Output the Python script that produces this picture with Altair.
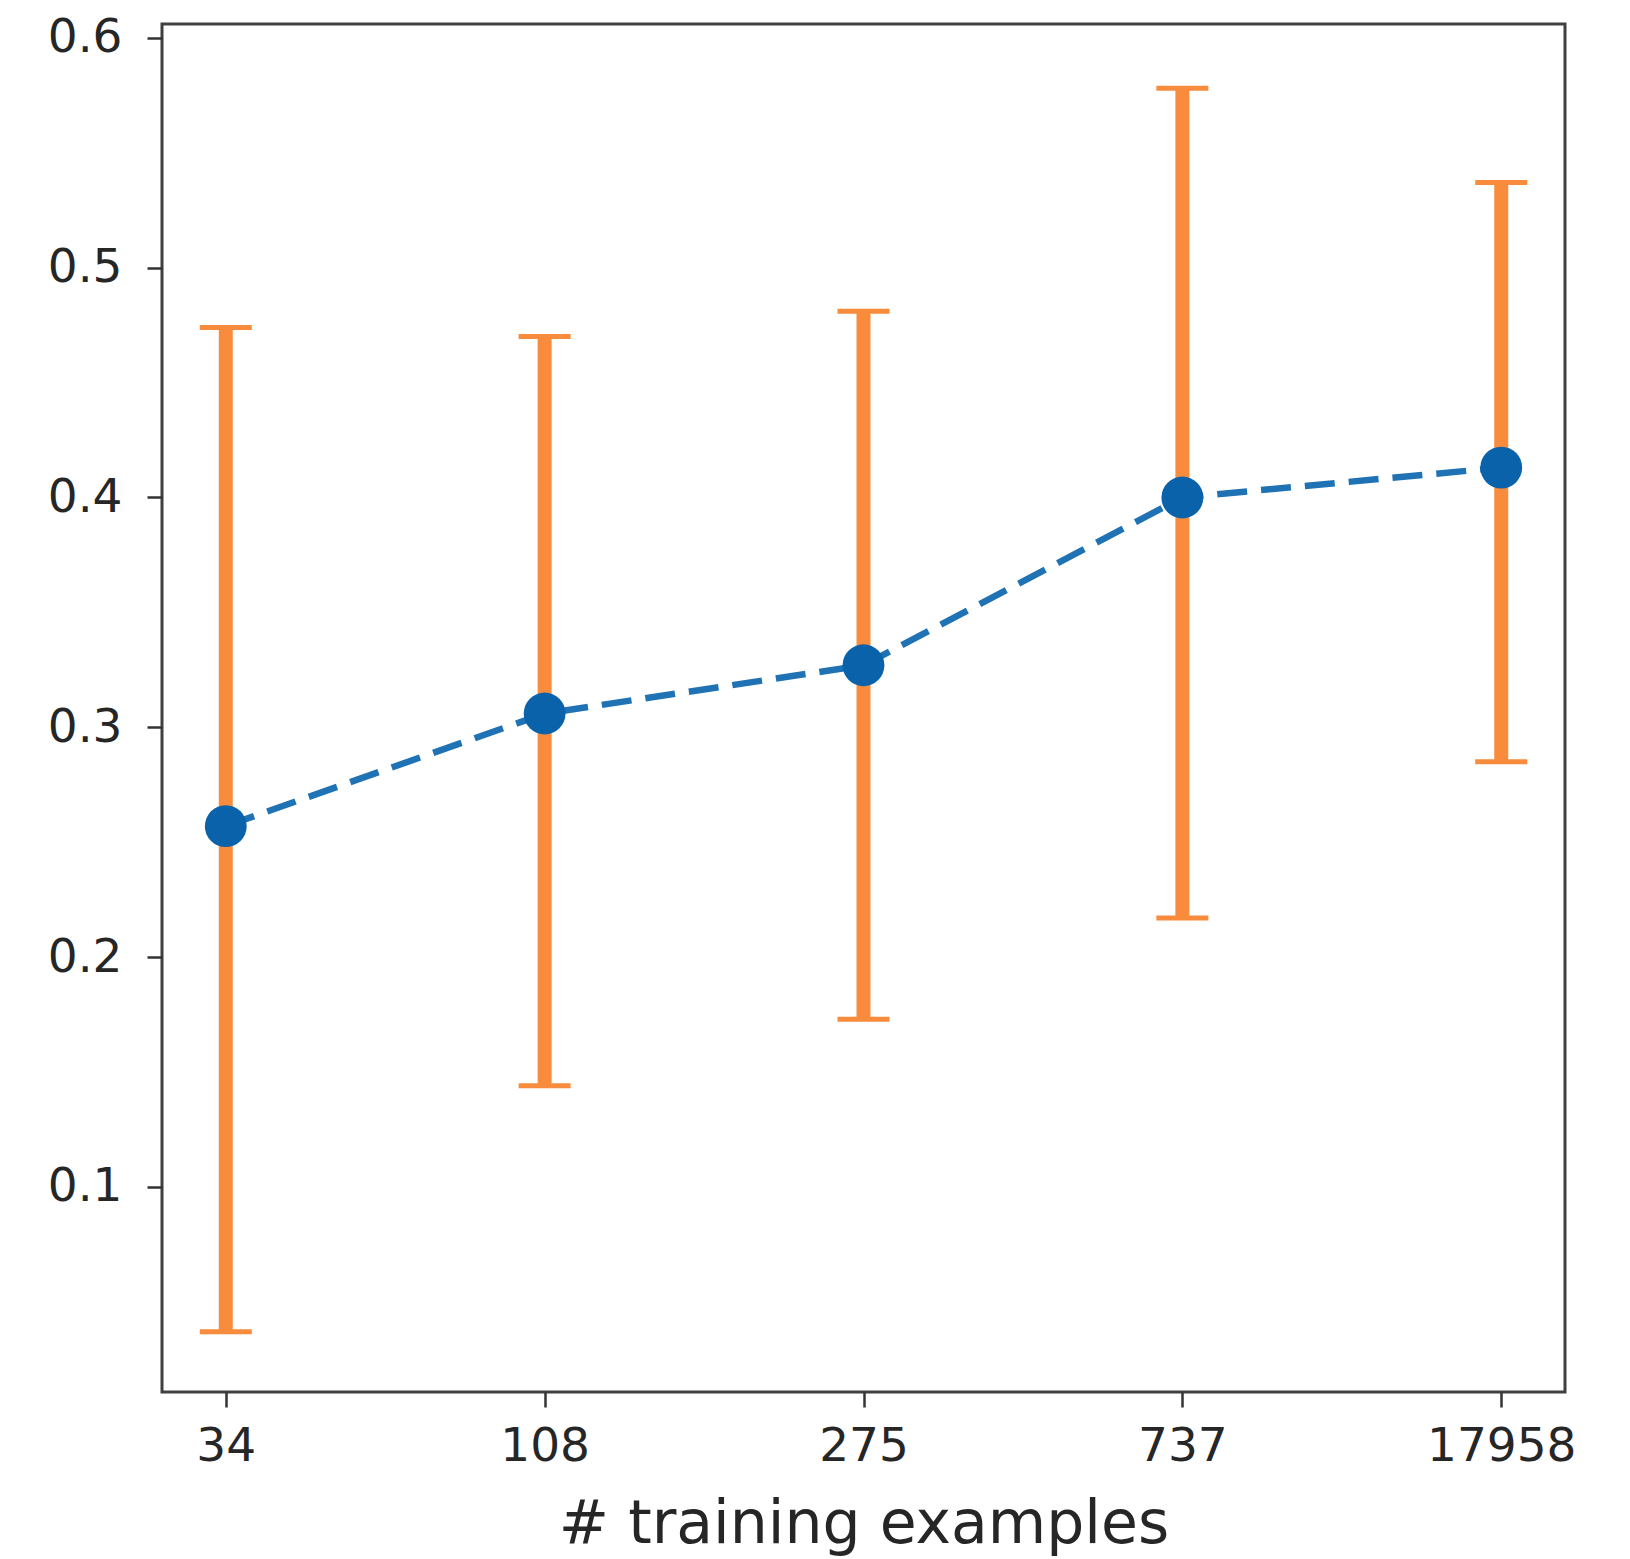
import altair as alt
import pandas as pd

# Data
labels = ["34", "108", "275", "737", "17958"]
means = [0.257, 0.306, 0.327, 0.400, 0.413]
lower = [0.037, 0.144, 0.173, 0.217, 0.285]
upper = [0.474, 0.470, 0.481, 0.578, 0.537]

df = pd.DataFrame({"n": labels, "mean": means, "lo": lower, "hi": upper})

FONT = "DejaVu Sans"
ORANGE = "#f98c3c"
BLUE_PT = "#0a62aa"
BLUE_LN = "#1f72b3"

x_enc = alt.X(
    "n:N",
    sort=labels,
    scale=alt.Scale(type="point", padding=0.2),
    axis=alt.Axis(
        title="# training examples",
        labelAngle=0,
        labelFont=FONT,
        labelFontSize=47,
        labelColor="#262626",
        labelPadding=16,
        tickSize=15,
        tickWidth=2.5,
        tickColor="#333333",
        domain=False,
        grid=False,
        titleFont=FONT,
        titleFontSize=60,
        titleFontWeight="normal",
        titleColor="#262626",
        titleBaseline="alphabetic",
        titleY=150,
    ),
)

y_scale = alt.Scale(domain=[0.0108, 0.606], nice=False, zero=False)
y_axis = alt.Axis(
    title=None,
    values=[0.1, 0.2, 0.3, 0.4, 0.5, 0.6],
    format=".1f",
    labelFont=FONT,
    labelFontSize=47,
    labelColor="#262626",
    labelPadding=25,
    tickSize=15,
    tickWidth=2.5,
    tickColor="#333333",
    domain=False,
    grid=False,
)

base = alt.Chart(df)

bars = base.mark_rule(color=ORANGE, strokeWidth=14).encode(
    x=x_enc,
    y=alt.Y("lo:Q", scale=y_scale, axis=y_axis),
    y2="hi:Q",
)

cap_lo = base.mark_tick(color=ORANGE, size=52, thickness=5, orient="horizontal", opacity=1).encode(
    x=alt.X("n:N", sort=labels),
    y=alt.Y("lo:Q"),
)
cap_hi = base.mark_tick(color=ORANGE, size=52, thickness=5, orient="horizontal", opacity=1).encode(
    x=alt.X("n:N", sort=labels),
    y=alt.Y("hi:Q"),
)

line = base.mark_line(color=BLUE_LN, strokeWidth=6.5, strokeDash=[30, 14]).encode(
    x=alt.X("n:N", sort=labels),
    y=alt.Y("mean:Q"),
)

points = base.mark_point(filled=True, color=BLUE_PT, size=1750, opacity=1, shape="circle").encode(
    x=alt.X("n:N", sort=labels),
    y=alt.Y("mean:Q"),
)

chart = (
    alt.layer(bars, cap_lo, cap_hi, line, points)
    .properties(
        width=1403,
        height=1368,
        autosize=alt.AutoSizeParams(type="none"),
        padding={"left": 154, "top": 16, "right": 57, "bottom": 170},
        background="white",
    )
    .configure_view(stroke="#404040", strokeWidth=3)
)

chart.save("out.html", embed_options={"renderer": "svg", "actions": False})
